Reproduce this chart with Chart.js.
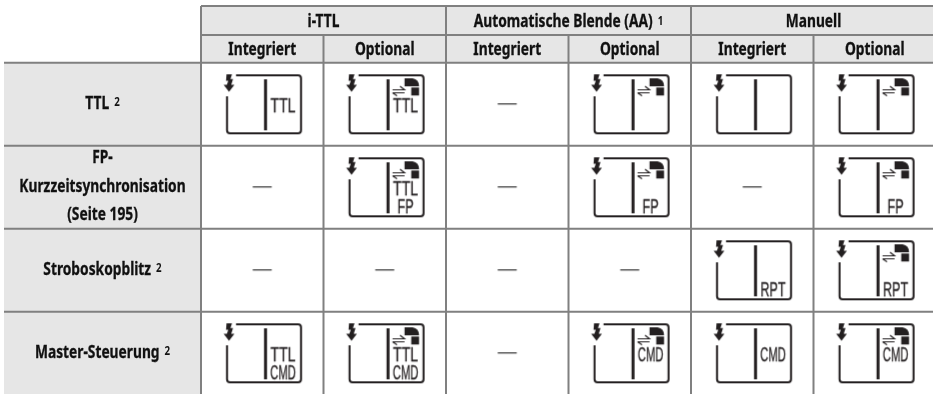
<!DOCTYPE html>
<html>
<head>
<meta charset="utf-8">
<title>Blitzsteuerung</title>
<script src="https://cdn.jsdelivr.net/npm/chart.js@4"></script>
<style>
  body { margin: 0; background: #fff; }
  canvas { display: block; }
</style>
</head>
<body>
<canvas id="tabelle" width="933" height="394"></canvas>
<script>
// table content
const groupLabels = ["i-TTL", "Automatische Blende (AA)", "Manuell"];
const groupNotes = ["", "1", ""];
const columnLabels = ["Integriert", "Optional", "Integriert", "Optional", "Integriert", "Optional"];
const rowLabels = [["TTL"], ["FP-", "Kurzzeitsynchronisation", "(Seite 195)"], ["Stroboskopblitz"], ["Master-Steuerung"]];
const rowNotes = ["2", "", "2", "2"];

// cell codes: "-" is a dash, otherwise unit|middle text|bottom text (I = integriert, O = optional)
const rowTTL = ["I|TTL|", "O|TTL|", "-", "O||", "I||", "O||"];
const rowFP = ["-", "O|TTL|FP", "-", "O||FP", "-", "O||FP"];
const rowStrobo = ["-", "-", "-", "-", "I||RPT", "O||RPT"];
const rowMaster = ["I|TTL|CMD", "O|TTL|CMD", "-", "O|CMD|", "I|CMD|", "O|CMD|"];
const cellRows = [rowTTL, rowFP, rowStrobo, rowMaster];

// layout of the axes, one unit is one column or one row
const COL_W = 122.5, ROW_H = 83, LEFT = 201, TOP = 62.8;
const xMin = -LEFT / COL_W, xMax = (933 - LEFT) / COL_W;
const yMin = -TOP / ROW_H, yMax = (394 - TOP) / ROW_H;
const labelLeft = (4 - LEFT) / COL_W;
const headTop = (6 - TOP) / ROW_H, subTop = (35 - TOP) / ROW_H;

const INK = "#231f20", RULE = "#808080", SHADE = "#e6e6e6";
const BOLD = 'bold 17px "Noto Sans", "Liberation Sans", sans-serif';
const NOTE = 'bold 12px "Noto Sans", "Liberation Sans", sans-serif';
const THIN = '19.5px "Liberation Sans", sans-serif';
const BOLD_SCALE = 0.81;
const ICON_TEXT_W = { TTL: 25, FP: 16, RPT: 25, CMD: 25.5 };

function iconText(g, text, cx, base) {
    g.save();
    g.font = THIN;
    g.translate(cx, base);
    g.scale(ICON_TEXT_W[text] / g.measureText(text).width, 1);
    g.textAlign = "center";
    g.fillStyle = INK;
    g.strokeStyle = INK;
    g.lineWidth = 0.3;
    g.fillText(text, 0, 0);
    g.strokeText(text, 0, 0);
    g.restore();
}

function poly(g, pts) {
    g.beginPath();
    pts.forEach((p, i) => i ? g.lineTo(p[0], p[1]) : g.moveTo(p[0], p[1]));
    g.closePath();
    g.fill();
}

// one icon as point style, drawn around the centre of its cell
function makeIcon(code) {
    const c = document.createElement("canvas");
    c.width = 100;
    c.height = 76;
    const g = c.getContext("2d");
    if (code === "-") {
        g.font = '19px "Liberation Sans", sans-serif';
        g.textAlign = "center";
        g.fillStyle = "#333";
        g.fillText("\u2014", 50, 42);
        return c;
    }
    const [unit, mid, low] = code.split("|");
    g.translate(14.8, 9);
    g.strokeStyle = INK;
    g.fillStyle = INK;
    g.lineWidth = 2;
    // frame, open at the top left for the bolt
    g.beginPath();
    g.moveTo(9, 0);
    g.lineTo(71, 0);
    g.arcTo(74, 0, 74, 3, 3);
    g.lineTo(74, 55);
    g.arcTo(74, 58, 71, 58, 3);
    g.lineTo(3, 58);
    g.arcTo(0, 58, 0, 55, 3);
    g.lineTo(0, 21);
    g.stroke();
    // divider
    g.lineWidth = 3;
    g.beginPath();
    g.moveTo(38.5, 4);
    g.lineTo(38.5, 55);
    g.stroke();
    // bolt
    poly(g, [[-0.5, -1], [5, -1], [3.4, 3.8], [6, 3.8], [4.2, 9.5], [7.4, 9.5], [2, 16.5], [-3.4, 9.5], [-0.2, 9.5], [1.3, 5.6], [-1, 5.6]]);
    if (unit === "O") {
        // flash unit
        g.beginPath();
        g.moveTo(55, 3);
        g.lineTo(63, 3);
        g.quadraticCurveTo(69.5, 4, 69.5, 11);
        g.lineTo(55, 11);
        g.closePath();
        g.fill();
        g.fillRect(61.7, 12.2, 7.8, 8);
        // arrows
        g.lineWidth = 1.2;
        g.beginPath();
        g.moveTo(43, 14.5);
        g.lineTo(55, 14.5);
        g.lineTo(50.5, 11);
        g.moveTo(43, 17.5);
        g.lineTo(55, 17.5);
        g.moveTo(43, 17.5);
        g.lineTo(47.5, 20.5);
        g.stroke();
    }
    if (mid) iconText(g, mid, 56, 37.3);
    if (low) iconText(g, low, 56, 55);
    return c;
}

// rules as one dataset, NaN points break the line
function ruleData() {
    const out = [];
    const add = (x1, y1, x2, y2) => out.push({ x: x1, y: y1 }, { x: x2, y: y2 }, { x: NaN, y: NaN });
    [headTop, subTop].forEach(y => add(0, y, 6, y));
    [0, 1, 2, 3].forEach(y => add(labelLeft, y, 6, y));
    [0, 2, 4].forEach(x => add(x, headTop, x, 4));
    [1, 3, 5].forEach(x => add(x, subTop, x, 4));
    return out;
}

const iconPoints = [], iconStyles = [], cache = {};
cellRows.forEach((row, r) => row.forEach((code, c) => {
    iconPoints.push({ x: c + 0.5, y: r + 0.5 });
    cache[code] = cache[code] || makeIcon(code);
    iconStyles.push(cache[code]);
}));

function centered(ctx, text, note, cx, base) {
    ctx.font = BOLD;
    const w = ctx.measureText(text).width * BOLD_SCALE;
    ctx.font = NOTE;
    const n = note ? ctx.measureText(note).width * BOLD_SCALE + 5 : 0;
    const left = cx - (w + n) / 2;
    ctx.textAlign = "left";
    ctx.fillStyle = "#111";
    ctx.strokeStyle = "#111";
    ctx.lineWidth = 0.3;
    ctx.save();
    ctx.translate(left, base);
    ctx.scale(BOLD_SCALE, 1);
    ctx.font = BOLD;
    ctx.fillText(text, 0, 0);
    ctx.strokeText(text, 0, 0);
    if (note) {
        ctx.font = NOTE;
        ctx.fillText(note, (w + 5) / BOLD_SCALE, -2.5);
    }
    ctx.restore();
}

const tablePlugin = {
    id: "tablePlugin",
    beforeDatasetsDraw(chart) {
        const { ctx, scales: { x, y } } = chart;
        ctx.save();
        ctx.fillStyle = SHADE;
        ctx.fillRect(x.getPixelForValue(0), y.getPixelForValue(headTop), x.getPixelForValue(6) - x.getPixelForValue(0), y.getPixelForValue(0) - y.getPixelForValue(headTop));
        ctx.fillRect(x.getPixelForValue(labelLeft), y.getPixelForValue(0), x.getPixelForValue(0) - x.getPixelForValue(labelLeft), y.getPixelForValue(4) - y.getPixelForValue(0));
        ctx.restore();
    },
    afterDatasetsDraw(chart) {
        const { ctx, scales: { x, y } } = chart;
        ctx.save();
        groupLabels.forEach((t, i) => centered(ctx, t, groupNotes[i], x.getPixelForValue(i * 2 + 1), 27));
        columnLabels.forEach((t, i) => centered(ctx, t, "", x.getPixelForValue(i + 0.5), 55));
        const labelX = x.getPixelForValue((labelLeft + 0) / 2);
        rowLabels.forEach((lines, r) => {
            const mid = y.getPixelForValue(r + 0.5) + 4.5;
            lines.forEach((t, i) => {
                const note = i === lines.length - 1 ? rowNotes[r] : "";
                centered(ctx, t, note, labelX, mid + (i - (lines.length - 1) / 2) * 28.5);
            });
        });
        ctx.restore();
    }
};

new Chart(document.getElementById("tabelle").getContext("2d"), {
    type: "scatter",
    data: {
        datasets: [
            { data: iconPoints, pointStyle: iconStyles, pointRadius: 10, showLine: false },
            { data: ruleData(), showLine: true, spanGaps: false, pointRadius: 0, borderColor: RULE, borderWidth: 2 }
        ]
    },
    options: {
        responsive: false,
        animation: false,
        events: [],
        layout: { padding: 0, autoPadding: false },
        plugins: { legend: { display: false }, tooltip: { enabled: false } },
        scales: {
            x: { type: "linear", display: false, min: xMin, max: xMax },
            y: { type: "linear", display: false, reverse: true, min: yMin, max: yMax }
        }
    },
    plugins: [tablePlugin]
});
</script>
</body>
</html>
